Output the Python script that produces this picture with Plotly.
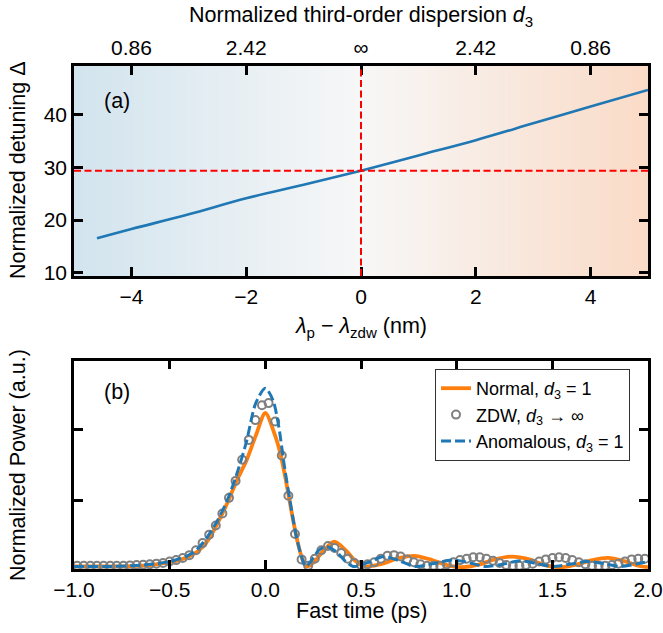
import numpy as np
import plotly.graph_objects as go

# ---------------- data: panel (a) ----------------
lam_offset = [-4.6, -4.0, -3.0, -2.0, -1.0, 0.0, 1.0, 2.0, 3.0, 4.0, 5.0]
detuning = [16.55, 18.3, 21.1, 24.15, 26.7, 29.4, 32.3, 35.2, 38.4, 41.6, 44.75]
zdw_offset = 0.0
delta_zdw = 29.4
top_tick_pos = [-4, -2, 0, 2, 4]
top_tick_text = ["0.86", "2.42", "∞", "2.42", "0.86"]

# ---------------- data: panel (b) ----------------
t_normal = [-1.0, -0.9, -0.8, -0.7, -0.6, -0.5, -0.45, -0.4, -0.35, -0.3, -0.25, -0.2,
            -0.15, -0.1, -0.05, 0.0, 0.05, 0.08, 0.11, 0.14, 0.17, 0.2, 0.22, 0.25,
            0.3, 0.36, 0.42, 0.47, 0.52, 0.6, 0.7, 0.78, 0.86, 0.95, 1.03, 1.12, 1.2,
            1.29, 1.38, 1.46, 1.55, 1.63, 1.71, 1.79, 1.87, 1.95, 2.0]
p_normal = [0.07, 0.07, 0.07, 0.075, 0.09, 0.13, 0.16, 0.21, 0.29, 0.44, 0.68, 0.96,
            1.28, 1.56, 1.92, 2.24, 1.93, 1.65, 1.25, 0.80, 0.40, 0.13, 0.07, 0.12,
            0.28, 0.42, 0.30, 0.15, 0.07, 0.10, 0.19, 0.22, 0.17, 0.09, 0.06, 0.10, 0.17,
            0.21, 0.17, 0.09, 0.06, 0.10, 0.16, 0.19, 0.15, 0.08, 0.06]

t_anom = [-1.0, -0.8, -0.7, -0.6, -0.5, -0.45, -0.4, -0.35, -0.3, -0.25, -0.2, -0.15,
          -0.1, -0.05, 0.0, 0.04, 0.07, 0.1, 0.13, 0.16, 0.19, 0.21, 0.24, 0.28, 0.32,
          0.37, 0.42, 0.46, 0.54, 0.62, 0.7, 0.78, 0.88, 0.98, 1.07, 1.15, 1.24, 1.33,
          1.42, 1.5, 1.59, 1.68, 1.77, 1.86, 1.95, 2.0]
p_anom = [0.07, 0.07, 0.08, 0.10, 0.14, 0.18, 0.23, 0.33, 0.50, 0.72, 1.0, 1.37,
          1.82, 2.38, 2.59, 2.42, 2.05, 1.48, 0.98, 0.52, 0.20, 0.07, 0.15, 0.30, 0.35,
          0.28, 0.14, 0.07, 0.13, 0.21, 0.15, 0.07, 0.11, 0.16, 0.12, 0.07, 0.10, 0.15,
          0.11, 0.07, 0.10, 0.14, 0.11, 0.07, 0.11, 0.14]

# ZDW samples (open circles), one every 0.0345 ps
t_zdw = [round(0.017 + 0.0345 * k, 4) for k in range(-29, 58)]
p_zdw = [0.08, 0.08, 0.08, 0.08, 0.08, 0.08, 0.08, 0.08, 0.085, 0.09, 0.095,
         0.10, 0.11, 0.12, 0.14, 0.16, 0.19, 0.23, 0.30, 0.40, 0.52, 0.65, 0.82,
         1.04, 1.28, 1.58, 1.86, 2.14, 2.35, 2.38, 2.12, 1.64, 1.07, 0.53, 0.17,
         0.08, 0.18, 0.30, 0.36, 0.33, 0.26, 0.18, 0.12, 0.09, 0.10, 0.13, 0.18,
         0.22, 0.23, 0.21, 0.17, 0.13, 0.10, 0.08, 0.08, 0.08, 0.10, 0.13, 0.16,
         0.18, 0.20, 0.20, 0.18, 0.15, 0.12, 0.09, 0.08, 0.08, 0.09, 0.11, 0.14,
         0.17, 0.19, 0.20, 0.19, 0.16, 0.13, 0.10, 0.08, 0.08, 0.08, 0.09, 0.11,
         0.14, 0.17, 0.18, 0.18]

power_ticks = [1, 2, 3]
time_ticks = [-1.0, -0.5, 0.0, 0.5, 1.0, 1.5, 2.0]

# ---------------- styling / layout geometry (pixels) ----------------
FONT = "Liberation Sans, Arial, Helvetica, sans-serif"
TICK_SIZE = 21
TITLE_SIZE = 21.5
LEGEND_SIZE = 18
W, H = 663, 633
ML, MR, MT, MB = 74, 15, 66, 64
PW, PH = W - ML - MR, H - MT - MB


def px_x(x):   # figure pixel -> paper x
    return (x - ML) / PW


def px_y(y):   # figure pixel -> paper y
    return 1 - (y - MT) / PH


YA = [px_y(276), 1.0]
YB = [0.0, px_y(360.7)]
XRANGE_A = [-5, 5]
YRANGE_A = [9.37, 49.3]
XRANGE_B = [-1, 2]
YRANGE_B = [0.034, 2.98]

fig = go.Figure()

# gradient background of panel (a)
gx = np.linspace(XRANGE_A[0], XRANGE_A[1], 201)
fig.add_trace(go.Heatmap(
    x=gx, y=YRANGE_A, z=[gx, gx],
    colorscale=[[0, "rgb(210,228,238)"], [0.5, "rgb(247,247,247)"], [1, "rgb(250,219,199)"]],
    showscale=False, hoverinfo="skip", xaxis="x", yaxis="y", zsmooth="fast"))

fig.add_trace(go.Scatter(x=lam_offset, y=detuning, mode="lines",
                         line=dict(color="#1f77b4", width=2.6, shape="spline"),
                         showlegend=False, xaxis="x", yaxis="y"))
# invisible helper so the top axis is populated
fig.add_trace(go.Scatter(x=top_tick_pos, y=[None] * len(top_tick_pos), mode="markers",
                         showlegend=False, hoverinfo="skip", xaxis="x2", yaxis="y"))

# panel (b)
fig.add_trace(go.Scatter(x=t_normal, y=p_normal, mode="lines", name="Normal, <i>d</i><sub>3</sub> = 1",
                         line=dict(color="#ff7f0e", width=3.8, shape="spline", smoothing=0.8),
                         xaxis="x3", yaxis="y2"))
fig.add_trace(go.Scatter(x=t_zdw, y=p_zdw, mode="markers", name="ZDW, <i>d</i><sub>3</sub> → ∞",
                         marker=dict(symbol="circle-open", size=8, color="#808080",
                                     line=dict(width=2, color="#808080")),
                         xaxis="x3", yaxis="y2"))
fig.add_trace(go.Scatter(x=t_anom, y=p_anom, mode="lines", name="Anomalous, <i>d</i><sub>3</sub> = 1",
                         line=dict(color="#1f77b4", width=3, dash="10px,4px", shape="spline", smoothing=0.8),
                         xaxis="x3", yaxis="y2"))

tickstyle = dict(ticks="inside", ticklen=9, tickwidth=2.5, tickcolor="black", automargin=False,
                 showline=True, linewidth=2.5, linecolor="black", showgrid=False, zeroline=False,
                 tickfont=dict(family=FONT, size=TICK_SIZE, color="black"))

ann_font = dict(family=FONT, size=TITLE_SIZE, color="black")
fig.update_layout(
    width=W, height=H, autosize=False, margin=dict(l=ML, r=MR, t=MT, b=MB, pad=0),
    paper_bgcolor="white", plot_bgcolor="white",
    font=dict(family=FONT, size=TICK_SIZE, color="black"),
    xaxis=dict(domain=[0, 1], range=XRANGE_A, anchor="y", tickvals=[-4, -2, 0, 2, 4], mirror=True, **tickstyle),
    xaxis2=dict(domain=[0, 1], range=XRANGE_A, anchor="y", overlaying="x", side="top",
                tickvals=top_tick_pos, ticktext=top_tick_text, **tickstyle),
    yaxis=dict(domain=YA, range=YRANGE_A, anchor="x", tickvals=[10, 20, 30, 40], mirror="ticks", **tickstyle),
    xaxis3=dict(domain=[0, 1], range=XRANGE_B, anchor="y2", tickvals=time_ticks, tickformat=".1f",
                mirror="ticks", **tickstyle),
    yaxis2=dict(domain=YB, range=YRANGE_B, anchor="x3", tickvals=power_ticks, showticklabels=False,
                mirror="ticks", **tickstyle),
    legend=dict(x=px_x(630), y=px_y(369), xanchor="right", yanchor="top",
                bgcolor="white", bordercolor="#333", borderwidth=1,
                font=dict(family=FONT, size=LEGEND_SIZE, color="black"), tracegroupgap=0),
    shapes=[
        dict(type="line", xref="x", yref="y domain", x0=zdw_offset, x1=zdw_offset, y0=0, y1=1,
             line=dict(color="red", width=2, dash="7px,3.5px")),
        dict(type="line", xref="x domain", yref="y", x0=0, x1=1, y0=delta_zdw, y1=delta_zdw,
             line=dict(color="red", width=2, dash="7px,3.5px")),
    ],
    annotations=[
        dict(text="Normalized third-order dispersion <i>d</i><sub>3</sub>", xref="paper", yref="paper",
             x=0.5, y=px_y(16), showarrow=False, font=ann_font, xanchor="center", yanchor="middle"),
        dict(text="<i>λ</i><sub>p</sub> − <i>λ</i><sub>zdw</sub> (nm)", xref="paper", yref="paper",
             x=0.5, y=px_y(327), showarrow=False, font=ann_font, xanchor="center", yanchor="middle"),
        dict(text="Fast time (ps)", xref="paper", yref="paper",
             x=0.5, y=px_y(611), showarrow=False, font=ann_font, xanchor="center", yanchor="middle"),
        dict(text="Normalized detuning Δ", xref="paper", yref="paper", textangle=-90,
             x=px_x(18), y=px_y(170), showarrow=False, font=ann_font, xanchor="center", yanchor="middle"),
        dict(text="Normalized Power (a.u.)", xref="paper", yref="paper", textangle=-90,
             x=px_x(18), y=px_y(465), showarrow=False, font=ann_font, xanchor="center", yanchor="middle"),
        dict(text="(a)", xref="paper", yref="paper", x=px_x(117), y=px_y(101), showarrow=False,
             font=ann_font, xanchor="center", yanchor="middle"),
        dict(text="(b)", xref="paper", yref="paper", x=px_x(117), y=px_y(392), showarrow=False,
             font=ann_font, xanchor="center", yanchor="middle"),
    ],
)

fig.write_html("out.html", config={"responsive": False, "displayModeBar": False},
               post_script="document.body.style.margin='0';document.body.style.padding='0';")
